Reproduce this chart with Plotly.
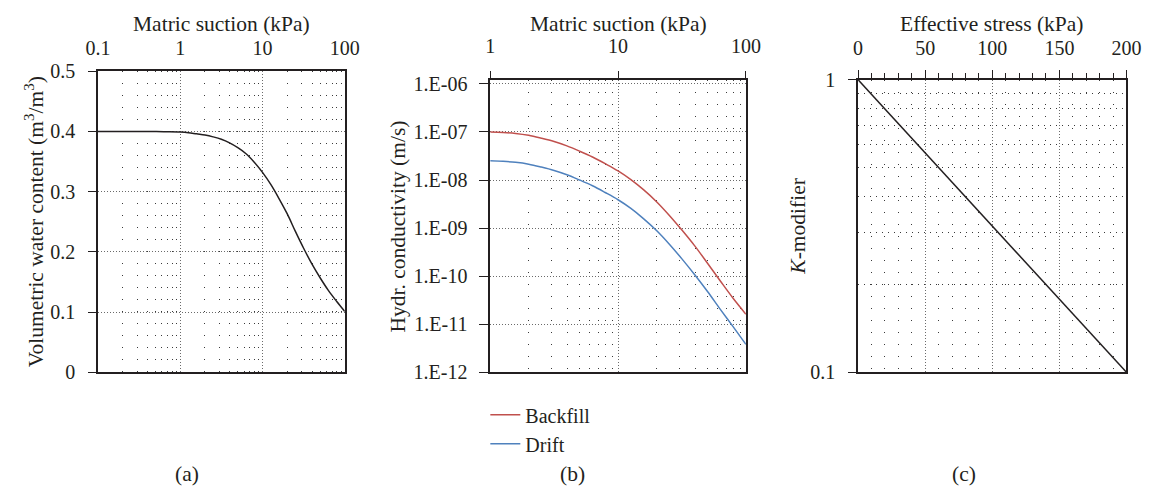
import plotly.graph_objects as go

# ---------------- data ----------------
# (a) water retention curve
suction_a = [0.1, 0.16, 0.25, 0.4, 0.63, 1, 1.26, 1.58, 2, 2.51, 3.16, 3.98,
             5.01, 6.31, 7.94, 10, 12.6, 15.8, 20, 25.1, 31.6, 39.8, 50.1,
             63.1, 79.4, 100]
theta_a = [0.400, 0.400, 0.400, 0.400, 0.3995, 0.399, 0.398, 0.396, 0.394,
           0.391, 0.387, 0.381, 0.373, 0.363, 0.349, 0.332, 0.312, 0.289,
           0.263, 0.234, 0.206, 0.180, 0.157, 0.136, 0.118, 0.101]

# (b) hydraulic conductivity curves
suction_b = [1, 1.26, 1.58, 2, 2.51, 3.16, 3.98, 5.01, 6.31, 7.94,
             10, 12.6, 15.8, 20, 25.1, 31.6, 39.8, 50.1, 63.1, 79.4, 100]
k_backfill = [1.00e-7, 9.77e-8, 9.33e-8, 8.51e-8, 7.41e-8, 6.31e-8, 5.13e-8,
              3.98e-8, 3.02e-8, 2.19e-8, 1.55e-8, 1.02e-8, 6.31e-9, 3.55e-9,
              1.86e-9, 9.12e-10, 4.27e-10, 1.86e-10, 7.94e-11, 3.47e-11, 1.62e-11]
k_drift = [2.51e-8, 2.45e-8, 2.34e-8, 2.14e-8, 1.86e-8, 1.58e-8, 1.29e-8,
           1.00e-8, 7.59e-9, 5.50e-9, 3.89e-9, 2.57e-9, 1.58e-9, 8.91e-10,
           4.68e-10, 2.29e-10, 1.07e-10, 4.79e-11, 2.04e-11, 8.91e-12, 3.80e-12]

# (c) K-modifier
stress_c = [0, 200]
kmod_c = [1.0, 0.1]

# tick labels
xa_ticks = [0.1, 1, 10, 100]
xa_text = ["0.1", "1", "10", "100"]
ya_ticks = [0, 0.1, 0.2, 0.3, 0.4, 0.5]
ya_text = ["0", "0.1", "0.2", "0.3", "0.4", "0.5"]
xb_ticks = [1, 10, 100]
xb_text = ["1", "10", "100"]
yb_ticks = [1e-12, 1e-11, 1e-10, 1e-9, 1e-8, 1e-7, 1e-6]
yb_text = ["1.E-12", "1.E-11", "1.E-10", "1.E-09", "1.E-08", "1.E-07", "1.E-06"]
xc_ticks = [0, 50, 100, 150, 200]
yc_ticks = [0.1, 1]
yc_text = ["0.1", "1"]

# ---------------- styling ----------------
W, H = 1161, 498
FONT = "Liberation Serif"
TXT = "#231f20"
TICK_SIZE = 20
TITLE_SIZE = 21.5
MAJ_DASH = "1px,2px"
MIN_DASH = "1px,11px"
MAJ_COL = "#6a6a6a"
MIN_COL = "#3a3a3a"


def px_x(p):
    return p / W


def px_y(p):
    return 1 - p / H


log_minor_a = [m * 10 ** e for e in (-1, 0, 1) for m in range(2, 10)]
log_minor_b = [m * 10 ** e for e in (0, 1) for m in range(2, 10)]
log_minor_c = [m / 10 for m in range(2, 10)]

fig = go.Figure()

fig.add_trace(go.Scatter(x=suction_a, y=theta_a, mode="lines",
                         line=dict(color=TXT, width=1.5, shape="spline", smoothing=1.0),
                         xaxis="x", yaxis="y", showlegend=False))
fig.add_trace(go.Scatter(x=suction_b, y=k_backfill, mode="lines", name="Backfill",
                         line=dict(color="#c0504d", width=1.5, shape="spline", smoothing=1.0),
                         xaxis="x2", yaxis="y2"))
fig.add_trace(go.Scatter(x=suction_b, y=k_drift, mode="lines", name="Drift",
                         line=dict(color="#4f81bd", width=1.5, shape="spline", smoothing=1.0),
                         xaxis="x2", yaxis="y2"))
fig.add_trace(go.Scatter(x=stress_c, y=kmod_c, mode="lines",
                         line=dict(color=TXT, width=1.5),
                         xaxis="x3", yaxis="y3", showlegend=False))

common = dict(showline=True, linecolor=TXT, linewidth=1.5, mirror=True,
              tickfont=dict(family=FONT, size=TICK_SIZE, color=TXT),
              tickcolor=TXT, tickwidth=1.2, zeroline=False,
              showgrid=True, gridcolor=MAJ_COL, griddash=MAJ_DASH, gridwidth=1)

ya_dom = [px_y(378), px_y(63)]
yb_dom = [px_y(378), px_y(72)]
yc_dom = [px_y(378), px_y(72)]

fig.update_layout(
    width=W, height=H, autosize=False,
    margin=dict(l=0, r=0, t=0, b=0),
    paper_bgcolor="white", plot_bgcolor="white",
    font=dict(family=FONT, color=TXT, size=TICK_SIZE),
    xaxis=dict(common, domain=[px_x(87), px_x(340)], anchor="y", side="top",
               type="log", range=[-1, 2], tickvals=xa_ticks, ticktext=xa_text,
               ticks="", ticklabelstandoff=6,
               minor=dict(tickvals=log_minor_a, showgrid=True, gridcolor=MIN_COL,
                          griddash=MIN_DASH, gridwidth=1)),
    yaxis=dict(common, domain=ya_dom, anchor="x", range=[0, 0.5],
               tickvals=ya_ticks, ticktext=ya_text,
               ticks="outside", ticklen=8, ticklabelstandoff=9),
    xaxis2=dict(common, domain=[px_x(489), px_x(751)], anchor="y2", side="top",
                type="log", range=[0, 2], tickvals=xb_ticks, ticktext=xb_text,
                ticks="outside", ticklen=7, ticklabelstandoff=10,
                minor=dict(tickvals=log_minor_b, showgrid=True, gridcolor=MIN_COL,
                           griddash=MIN_DASH, gridwidth=1)),
    yaxis2=dict(common, domain=yb_dom, anchor="x2", type="log", range=[-12, -5.915],
                tickvals=yb_ticks, ticktext=yb_text,
                ticks="outside", ticklen=9, ticklabelstandoff=8),
    xaxis3=dict(common, domain=[px_x(866), px_x(1141)], anchor="y3", side="top",
                range=[0, 200], tickvals=xc_ticks,
                ticks="outside", ticklen=8, ticklabelstandoff=7,
                minor=dict(dtick=10, tick0=0, ticks="outside", ticklen=5, tickcolor=TXT,
                           showgrid=True, gridcolor=MIN_COL, griddash=MIN_DASH, gridwidth=1)),
    yaxis3=dict(common, domain=yc_dom, anchor="x3", type="log", range=[-1, 0],
                tickvals=yc_ticks, ticktext=yc_text,
                ticks="outside", ticklen=8, ticklabelstandoff=9,
                minor=dict(tickvals=log_minor_c, ticks="", showgrid=True, gridcolor=MIN_COL,
                           griddash="1px,5px", gridwidth=1)),
    legend=dict(x=px_x(484), y=px_y(402), xanchor="left", yanchor="top",
                font=dict(family=FONT, size=20, color=TXT),
                bgcolor="rgba(0,0,0,0)", tracegroupgap=0, itemwidth=30),
)

ann_font = dict(family=FONT, size=TITLE_SIZE, color=TXT)
annotations = [
    dict(text="Matric suction (kPa)", x=px_x(213.5), y=px_y(14)),
    dict(text="Matric suction (kPa)", x=px_x(620), y=px_y(14)),
    dict(text="Effective stress (kPa)", x=px_x(1003), y=px_y(14)),
    dict(text="Volumetric water content (m<sup>3</sup>/m<sup>3</sup>)", x=px_x(22), y=px_y(220.5), textangle=-90),
    dict(text="Hydr. conductivity (m/s)", x=px_x(395), y=px_y(225), textangle=-90),
    dict(text="<i>K</i>-modifier", x=px_x(804), y=px_y(225), textangle=-90),
    dict(text="(a)", x=px_x(178), y=px_y(484)),
    dict(text="(b)", x=px_x(573), y=px_y(484)),
    dict(text="(c)", x=px_x(974), y=px_y(484)),
]
for a in annotations:
    fig.add_annotation(xref="paper", yref="paper", showarrow=False,
                       xanchor="center", yanchor="middle", font=ann_font, **a)

fig.write_html("out.html")
